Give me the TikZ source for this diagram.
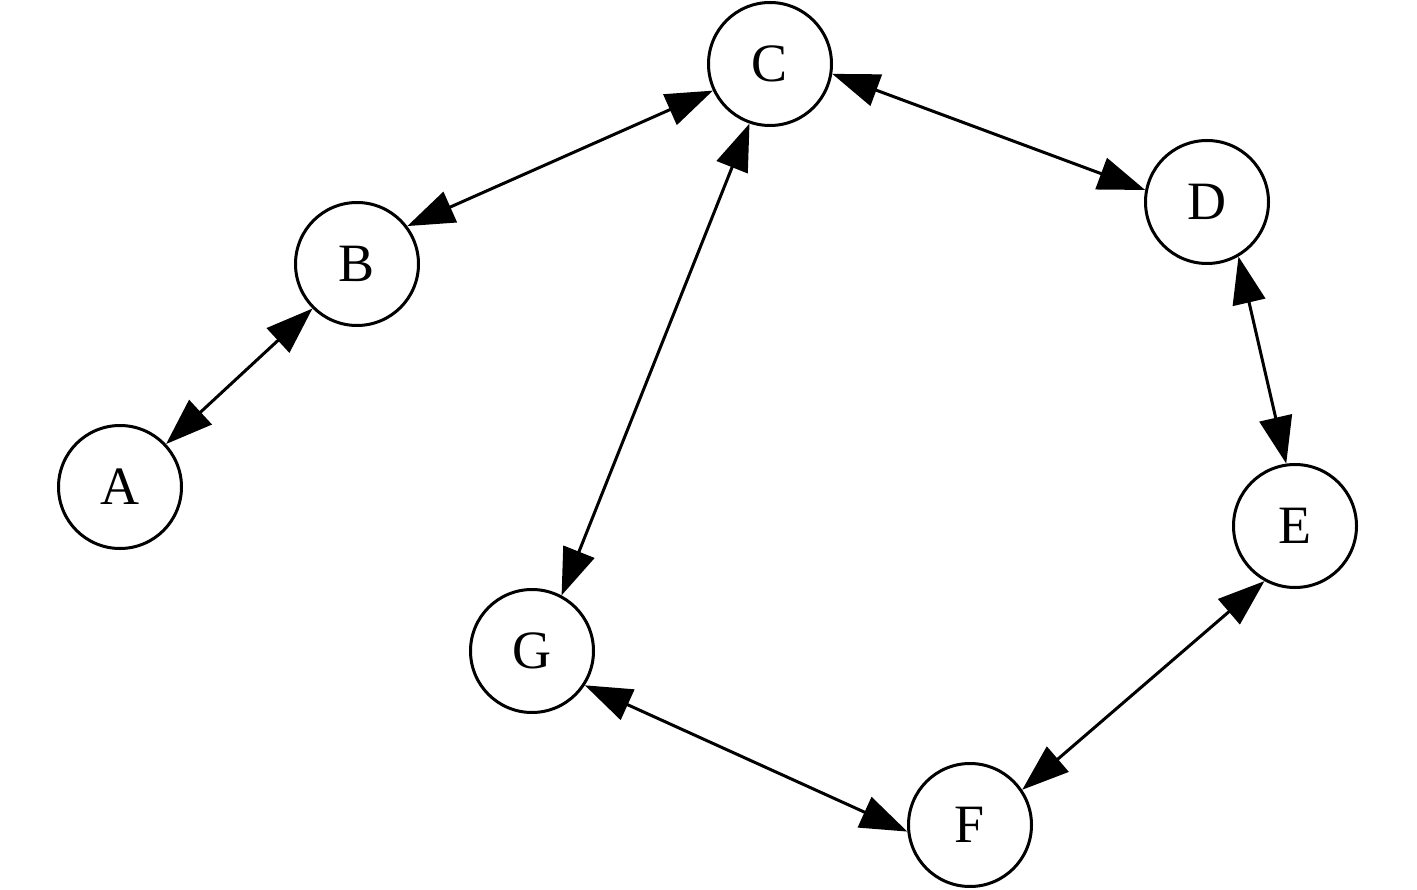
\documentclass[tikz,border=0pt]{standalone}
\usepackage{fontspec}
\setmainfont{Liberation Serif}
\usetikzlibrary{arrows.meta}
\begin{document}
\begin{tikzpicture}[x=1pt,y=-1pt,
  vtx/.style={circle, draw, line width=3pt, minimum size=123pt, inner sep=0pt, font=\fontsize{54}{60}\selectfont},
  edge/.style={line width=3pt, {Triangle[length=47pt,width=33pt]}-{Triangle[length=47pt,width=33pt]}}]
\useasboundingbox (0,0) rectangle (1417,890);
\node[vtx] (A) at (120,487) {A};
\node[vtx] (B) at (357,264) {B};
\node[vtx] (C) at (770,64) {C};
\node[vtx] (D) at (1207,202) {D};
\node[vtx] (E) at (1295,526) {E};
\node[vtx] (F) at (970,825) {F};
\node[vtx] (G) at (532,651) {G};
\draw[edge] (A.43.3) -- (B.225.4);
\draw[edge] (B.37.9) -- (C.205.4);
\draw[edge] (C.351) -- (D.169.7);
\draw[edge] (C.251.8) -- (G.62.8);
\draw[edge] (D.300.9) -- (E.98.8);
\draw[edge] (E.241.3) -- (F.34.2);
\draw[edge] (G.327.4) -- (F.186.9);
\end{tikzpicture}
\end{document}
